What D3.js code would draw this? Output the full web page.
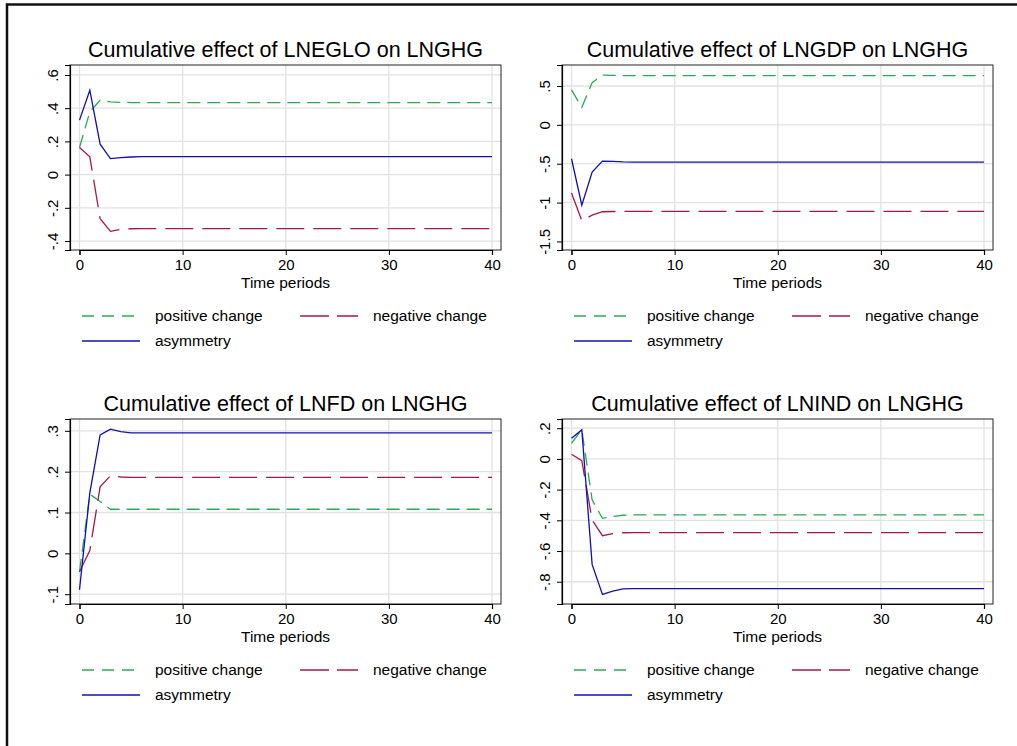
<!DOCTYPE html>
<html>
<head>
<meta charset="utf-8">
<script src="https://cdn.jsdelivr.net/npm/d3@7"></script>
<style>
  body { margin: 0; background: #fff; }
  text { font-family: "Liberation Sans", Arial, sans-serif; fill: #000; }
</style>
</head>
<body>
<div id="chart"></div>
<script>
// Time periods 0..40
const periods = [0,1,2,3,4,5,6,7,8,9,10,11,12,13,14,15,16,17,18,19,20,
  21,22,23,24,25,26,27,28,29,30,31,32,33,34,35,36,37,38,39,40];

// LNEGLO
const egloPos = [0.163,0.378,0.448,0.438,0.435,0.434,0.433,0.433,0.433,0.433,0.433,
  0.433,0.433,0.433,0.433,0.433,0.433,0.433,0.433,0.433,0.433,
  0.433,0.433,0.433,0.433,0.433,0.433,0.433,0.433,0.433,0.433,
  0.433,0.433,0.433,0.433,0.433,0.433,0.433,0.433,0.433,0.433];
const egloNeg = [0.163,0.107,-0.265,-0.342,-0.330,-0.326,-0.325,-0.325,-0.325,-0.325,-0.325,
  -0.325,-0.325,-0.325,-0.325,-0.325,-0.325,-0.325,-0.325,-0.325,-0.325,
  -0.325,-0.325,-0.325,-0.325,-0.325,-0.325,-0.325,-0.325,-0.325,-0.325,
  -0.325,-0.325,-0.325,-0.325,-0.325,-0.325,-0.325,-0.325,-0.325,-0.325];
const egloAsym = [0.328,0.508,0.183,0.096,0.102,0.106,0.108,0.108,0.108,0.108,0.108,
  0.108,0.108,0.108,0.108,0.108,0.108,0.108,0.108,0.108,0.108,
  0.108,0.108,0.108,0.108,0.108,0.108,0.108,0.108,0.108,0.108,
  0.108,0.108,0.108,0.108,0.108,0.108,0.108,0.108,0.108,0.108];

// LNGDP
const gdpPos = [0.449,0.226,0.543,0.641,0.636,0.634,0.633,0.633,0.633,0.633,0.633,
  0.633,0.633,0.633,0.633,0.633,0.633,0.633,0.633,0.633,0.633,
  0.633,0.633,0.633,0.633,0.633,0.633,0.633,0.633,0.633,0.633,
  0.633,0.633,0.633,0.633,0.633,0.633,0.633,0.633,0.633,0.633];
const gdpNeg = [-0.876,-1.231,-1.162,-1.118,-1.115,-1.114,-1.114,-1.114,-1.114,-1.114,-1.114,
  -1.114,-1.114,-1.114,-1.114,-1.114,-1.114,-1.114,-1.114,-1.114,-1.114,
  -1.114,-1.114,-1.114,-1.114,-1.114,-1.114,-1.114,-1.114,-1.114,-1.114,
  -1.114,-1.114,-1.114,-1.114,-1.114,-1.114,-1.114,-1.114,-1.114,-1.114];
const gdpAsym = [-0.436,-1.034,-0.607,-0.466,-0.470,-0.476,-0.479,-0.479,-0.479,-0.479,-0.479,
  -0.479,-0.479,-0.479,-0.479,-0.479,-0.479,-0.479,-0.479,-0.479,-0.479,
  -0.479,-0.479,-0.479,-0.479,-0.479,-0.479,-0.479,-0.479,-0.479,-0.479,
  -0.479,-0.479,-0.479,-0.479,-0.479,-0.479,-0.479,-0.479,-0.479,-0.479];

// LNFD
const fdPos = [-0.045,0.145,0.127,0.108,0.108,0.108,0.108,0.108,0.108,0.108,0.108,
  0.108,0.108,0.108,0.108,0.108,0.108,0.108,0.108,0.108,0.108,
  0.108,0.108,0.108,0.108,0.108,0.108,0.108,0.108,0.108,0.108,
  0.108,0.108,0.108,0.108,0.108,0.108,0.108,0.108,0.108,0.108];
const fdNeg = [-0.045,0.007,0.163,0.190,0.187,0.186,0.186,0.186,0.186,0.186,0.186,
  0.186,0.186,0.186,0.186,0.186,0.186,0.186,0.186,0.186,0.186,
  0.186,0.186,0.186,0.186,0.186,0.186,0.186,0.186,0.186,0.186,
  0.186,0.186,0.186,0.186,0.186,0.186,0.186,0.186,0.186,0.186];
const fdAsym = [-0.089,0.148,0.290,0.304,0.298,0.295,0.295,0.295,0.295,0.295,0.295,
  0.295,0.295,0.295,0.295,0.295,0.295,0.295,0.295,0.295,0.295,
  0.295,0.295,0.295,0.295,0.295,0.295,0.295,0.295,0.295,0.295,
  0.295,0.295,0.295,0.295,0.295,0.295,0.295,0.295,0.295,0.295];

// LNIND
const indPos = [0.102,0.189,-0.267,-0.387,-0.375,-0.367,-0.365,-0.365,-0.365,-0.365,-0.365,
  -0.365,-0.365,-0.365,-0.365,-0.365,-0.365,-0.365,-0.365,-0.365,-0.365,
  -0.365,-0.365,-0.365,-0.365,-0.365,-0.365,-0.365,-0.365,-0.365,-0.365,
  -0.365,-0.365,-0.365,-0.365,-0.365,-0.365,-0.365,-0.365,-0.365,-0.365];
const indNeg = [0.030,-0.011,-0.398,-0.500,-0.487,-0.481,-0.480,-0.480,-0.480,-0.480,-0.480,
  -0.480,-0.480,-0.480,-0.480,-0.480,-0.480,-0.480,-0.480,-0.480,-0.480,
  -0.480,-0.480,-0.480,-0.480,-0.480,-0.480,-0.480,-0.480,-0.480,-0.480,
  -0.480,-0.480,-0.480,-0.480,-0.480,-0.480,-0.480,-0.480,-0.480,-0.480];
const indAsym = [0.135,0.189,-0.687,-0.883,-0.861,-0.846,-0.845,-0.845,-0.845,-0.845,-0.845,
  -0.845,-0.845,-0.845,-0.845,-0.845,-0.845,-0.845,-0.845,-0.845,-0.845,
  -0.845,-0.845,-0.845,-0.845,-0.845,-0.845,-0.845,-0.845,-0.845,-0.845,
  -0.845,-0.845,-0.845,-0.845,-0.845,-0.845,-0.845,-0.845,-0.845,-0.845];

const titles = ["Cumulative effect of LNEGLO on LNGHG", "Cumulative effect of LNGDP on LNGHG",
  "Cumulative effect of LNFD on LNGHG", "Cumulative effect of LNIND on LNGHG"];
const xTicks = [0, 10, 20, 30, 40];
const yTicks = [[-0.4, -0.2, 0, 0.2, 0.4, 0.6], [-1.5, -1, -0.5, 0, 0.5],
  [-0.1, 0, 0.1, 0.2, 0.3], [-0.8, -0.6, -0.4, -0.2, 0, 0.2]];
const yDomains = [[-0.454, 0.66], [-1.61, 0.77], [-0.124, 0.329], [-0.945, 0.26]];
const seriesNames = ["positive change", "negative change", "asymmetry"];

const panelData = [
  [egloPos, egloNeg, egloAsym],
  [gdpPos, gdpNeg, gdpAsym],
  [fdPos, fdNeg, fdAsym],
  [indPos, indNeg, indAsym]
];

// styles per series
const colors = ["#2aaa55", "#a8174c", "#1010b0"];
const dashes = ["13,7", "28,9", null];
const legendDashes = ["12,8", "29,8", null];

const width = 1017, height = 746;
const svg = d3.select("#chart").append("svg")
    .attr("width", width)
    .attr("height", height);

// outer frame (top and left edges)
svg.append("path")
    .attr("d", `M${width},4.5H7V${height}`)
    .attr("fill", "none")
    .attr("stroke", "#111")
    .attr("stroke-width", 2.5);

const boxes = [
  {x0: 70, x1: 501, y0: 65, y1: 250},
  {x0: 562, x1: 993, y0: 65, y1: 250},
  {x0: 70, x1: 501, y0: 419, y1: 604},
  {x0: 562, x1: 993, y0: 419, y1: 604}
];

const fmt = v => String(+v.toFixed(2)).replace(/^(-?)0\./, "$1.");
const FONT = "'Liberation Sans', Arial, sans-serif";

boxes.forEach((b, i) => {
  const x = d3.scaleLinear().domain([0, 40]).range([b.x0 + 9.5, b.x1 - 9]);
  const y = d3.scaleLinear().domain(yDomains[i]).range([b.y1, b.y0]);
  const g = svg.append("g");

  // gridlines
  g.selectAll(".vgrid").data(xTicks).enter().append("line")
      .attr("x1", d => x(d)).attr("x2", d => x(d))
      .attr("y1", b.y0).attr("y2", b.y1)
      .attr("stroke", "#e2e2e2").attr("stroke-width", 1.3);
  g.selectAll(".hgrid").data(yTicks[i]).enter().append("line")
      .attr("x1", b.x0).attr("x2", b.x1)
      .attr("y1", d => y(d)).attr("y2", d => y(d))
      .attr("stroke", "#e2e2e2").attr("stroke-width", 1.3);

  // frame
  g.append("rect")
      .attr("x", b.x0).attr("y", b.y0)
      .attr("width", b.x1 - b.x0).attr("height", b.y1 - b.y0)
      .attr("fill", "none").attr("stroke", "#222").attr("stroke-width", 1);

  // y axis, labels turned upright like Stata
  const ya = g.append("g")
      .attr("transform", `translate(${b.x0},0)`)
      .call(d3.axisLeft(y).tickValues(yTicks[i]).tickSize(5).tickFormat(fmt));
  ya.select(".domain").attr("stroke", "#000").attr("stroke-width", 1.2);
  ya.selectAll(".tick text")
      .attr("x", 0).attr("y", 0).attr("dy", null)
      .attr("transform", "translate(-12,0) rotate(-90)")
      .attr("text-anchor", "middle")
      .style("font-size", "15px")
      .style("font-family", FONT);

  // x axis
  const xa = g.append("g")
      .attr("transform", `translate(0,${b.y1})`)
      .call(d3.axisBottom(x).tickValues(xTicks).tickSize(5));
  xa.select(".domain").attr("stroke", "#000").attr("stroke-width", 1.2);
  xa.selectAll("text")
      .attr("y", 9)
      .style("font-size", "15px")
      .style("font-family", FONT);

  const cx = (b.x0 + b.x1) / 2;
  g.append("text")
      .attr("x", cx).attr("y", b.y1 + 38)
      .attr("text-anchor", "middle")
      .style("font-size", "15.5px")
      .text("Time periods");

  g.append("text")
      .attr("x", cx).attr("y", b.y0 - 8)
      .attr("text-anchor", "middle")
      .style("font-size", "21.5px")
      .text(titles[i]);

  // series
  const line = d3.line().x((d, k) => x(periods[k])).y(d => y(d));
  panelData[i].forEach((s, k) => {
    g.append("path")
        .datum(s)
        .attr("d", line)
        .attr("fill", "none")
        .attr("stroke", colors[k])
        .attr("stroke-width", 1.3)
        .attr("stroke-dasharray", dashes[k]);
  });

  // legend
  const legPos = [
    {lx: b.x0 + 12, ly: b.y1 + 66},
    {lx: b.x0 + 230, ly: b.y1 + 66},
    {lx: b.x0 + 12, ly: b.y1 + 91}
  ];
  legPos.forEach((p, k) => {
    g.append("line")
        .attr("x1", p.lx).attr("x2", p.lx + 58)
        .attr("y1", p.ly).attr("y2", p.ly)
        .attr("stroke", colors[k])
        .attr("stroke-width", 1.3)
        .attr("stroke-dasharray", legendDashes[k]);
    g.append("text")
        .attr("x", p.lx + 73).attr("y", p.ly + 5)
        .style("font-size", "15.5px")
        .text(seriesNames[k]);
  });
});
</script>
</body>
</html>
